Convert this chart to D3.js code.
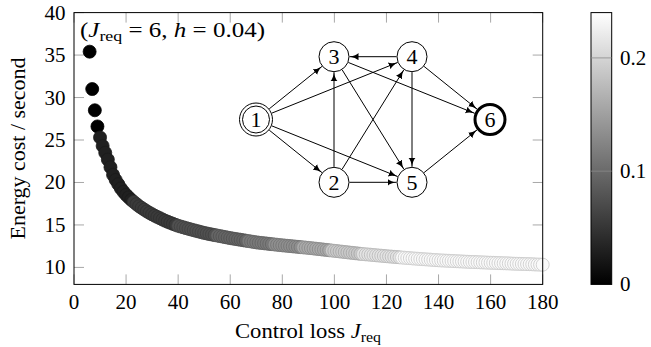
<!DOCTYPE html>
<html>
<head>
<meta charset="utf-8">
<script src="https://cdn.jsdelivr.net/npm/d3@7"></script>
<style>
  body { margin: 0; background: #fff; }
  svg { display: block; font-family: "Liberation Serif", serif; }
</style>
</head>
<body>
<div id="chart"></div>
<script>
const W = 651, H = 347;

// control loss J_req of each point
const jreq = d3.range(6, 181);
// energy cost / second, one value per J_req
const energy = [
  35.4, 31.0, 28.5, 26.6, 25.3, 24.3, 23.5, 22.7, 21.8, 20.9,
  20.3, 19.8, 19.3, 18.9, 18.55, 18.25, 17.95, 17.7, 17.45, 17.2,
  17.0, 16.8, 16.6, 16.42, 16.25, 16.09, 15.94, 15.79, 15.64, 15.5,
  15.37, 15.25, 15.13, 15.01, 14.9, 14.81, 14.72, 14.63, 14.54, 14.46,
  14.38, 14.3, 14.22, 14.14, 14.06, 14.0, 13.93, 13.87, 13.81, 13.75,
  13.69, 13.63, 13.57, 13.51, 13.45, 13.4, 13.35, 13.3, 13.25, 13.2,
  13.15, 13.1, 13.05, 13.0, 12.95, 12.91, 12.88, 12.84, 12.81, 12.77,
  12.74, 12.7, 12.67, 12.63, 12.6, 12.57, 12.54, 12.51, 12.48, 12.45,
  12.42, 12.39, 12.36, 12.33, 12.3, 12.27, 12.23, 12.2, 12.16, 12.13,
  12.09, 12.06, 12.02, 11.99, 11.95, 11.92, 11.88, 11.85, 11.81, 11.78,
  11.74, 11.71, 11.67, 11.64, 11.6, 11.57, 11.54, 11.52, 11.49, 11.46,
  11.43, 11.4, 11.38, 11.35, 11.32, 11.29, 11.27, 11.24, 11.22, 11.19,
  11.16, 11.14, 11.11, 11.09, 11.06, 11.04, 11.02, 10.99, 10.97, 10.95,
  10.93, 10.91, 10.88, 10.86, 10.84, 10.82, 10.81, 10.79, 10.78, 10.76,
  10.74, 10.73, 10.71, 10.7, 10.68, 10.67, 10.65, 10.64, 10.63, 10.62,
  10.6, 10.59, 10.58, 10.56, 10.55, 10.54, 10.53, 10.51, 10.5, 10.49,
  10.48, 10.47, 10.45, 10.44, 10.43, 10.42, 10.41, 10.4, 10.39, 10.38,
  10.37, 10.35, 10.34, 10.33, 10.32
];
// colour value of each point, as bands of J_req: [first J, last J, value]
const colourBands = [
  [6, 9, 0.0], [10, 22, 0.03], [23, 39, 0.055], [40, 54, 0.075],
  [55, 66, 0.095], [67, 76, 0.115], [77, 87, 0.135], [88, 98, 0.16],
  [99, 110, 0.19], [111, 125, 0.215], [126, 180, 0.235]
];

const xTicks = d3.range(0, 181, 20);
const yTicks = [10, 15, 20, 25, 30, 35, 40];
const cbTicks = [0, 0.1, 0.2];

// inset task graph
const graphNodes = [
  { id: 1, col: 0, row: 1, kind: "source" },
  { id: 2, col: 1, row: 2 },
  { id: 3, col: 1, row: 0 },
  { id: 4, col: 2, row: 0 },
  { id: 5, col: 2, row: 2 },
  { id: 6, col: 3, row: 1, kind: "sink" }
];
const graphEdges = [
  [1, 3], [1, 4], [1, 2], [1, 5], [2, 3], [2, 4], [2, 5],
  [3, 5], [3, 6], [4, 3], [4, 5], [4, 6], [5, 6]
];

////////////////////////////////////////////////////////////////////////////////////

const points = jreq.map((j, i) => {
  const band = colourBands.find(b => j >= b[0] && j <= b[1]);
  return { j: j, e: energy[i], c: band[2] };
});

const svg = d3.select("#chart").append("svg").attr("width", W).attr("height", H);
const defs = svg.append("defs");

const pLeft = 74, pRight = 542.7, pTop = 12.6, pBottom = 284.4;
const x = d3.scaleLinear().domain([0, 180]).range([pLeft, pRight]);
const y = d3.scaleLinear().domain([8, 40]).range([pBottom, pTop]);
const colour = d3.scaleLinear().domain([0, 0.24]).range(["#000000", "#ffffff"]);

const TICK_GREY = "#a8a8a8";
const TICK_LEN = 10;

// ticks, inside on all four sides
const tickG = svg.append("g").attr("stroke", TICK_GREY).attr("stroke-width", 1);
xTicks.forEach(t => {
  tickG.append("line").attr("x1", x(t)).attr("x2", x(t)).attr("y1", pBottom).attr("y2", pBottom - TICK_LEN);
  tickG.append("line").attr("x1", x(t)).attr("x2", x(t)).attr("y1", pTop).attr("y2", pTop + TICK_LEN);
});
yTicks.forEach(t => {
  tickG.append("line").attr("x1", pLeft).attr("x2", pLeft + TICK_LEN).attr("y1", y(t)).attr("y2", y(t));
  tickG.append("line").attr("x1", pRight).attr("x2", pRight - TICK_LEN).attr("y1", y(t)).attr("y2", y(t));
});

// scatter
svg.append("g")
  .selectAll("circle")
  .data(points)
  .enter()
  .append("circle")
  .attr("cx", d => x(d.j))
  .attr("cy", d => y(d.e))
  .attr("r", 6.5)
  .attr("fill", d => colour(d.c))
  .attr("stroke", d => d3.interpolateRgb(colour(d.c), "#000")(0.2))
  .attr("stroke-width", 0.8);

// frame
svg.append("rect")
  .attr("x", pLeft).attr("y", pTop)
  .attr("width", pRight - pLeft).attr("height", pBottom - pTop)
  .attr("fill", "none").attr("stroke", "#000").attr("stroke-width", 1);

// tick labels
svg.append("g").selectAll("text").data(xTicks).enter().append("text")
  .attr("x", d => x(d)).attr("y", 308.5)
  .attr("text-anchor", "middle").attr("font-size", 21)
  .text(d => d);

svg.append("g").selectAll("text").data(yTicks).enter().append("text")
  .attr("x", 65.5).attr("y", d => y(d) + 7)
  .attr("text-anchor", "end").attr("font-size", 21)
  .text(d => d);

// axis titles
svg.append("text")
  .attr("transform", `translate(25,${(pTop + pBottom) / 2}) rotate(-90)`)
  .attr("text-anchor", "middle").attr("font-size", 20)
  .attr("textLength", 182).attr("lengthAdjust", "spacingAndGlyphs")
  .text("Energy cost / second");

const xl = svg.append("text")
  .attr("x", 235).attr("y", 338)
  .attr("font-size", 20)
  .attr("textLength", 146).attr("lengthAdjust", "spacingAndGlyphs");
xl.append("tspan").text("Control loss ");
xl.append("tspan").attr("font-style", "italic").text("J");
xl.append("tspan").attr("font-size", 14).attr("dy", 4).text("req");

// annotation
const ann = svg.append("text").attr("x", 80).attr("y", 37).attr("font-size", 21)
  .attr("textLength", 185).attr("lengthAdjust", "spacingAndGlyphs");
ann.append("tspan").text("(");
ann.append("tspan").attr("font-style", "italic").text("J");
ann.append("tspan").attr("font-size", 15).attr("dy", 4).text("req");
ann.append("tspan").attr("dy", -4).text(" = 6, ");
ann.append("tspan").attr("font-style", "italic").text("h");
ann.append("tspan").text(" = 0.04)");

////////////////////////////////////////////////////////////////////////////////////
// colour bar

const cbLeft = 591, cbRight = 611.7;
const cy = d3.scaleLinear().domain([0, 0.24]).range([pBottom, pTop]);

const grad = defs.append("linearGradient")
  .attr("id", "cbgrad").attr("x1", 0).attr("x2", 0).attr("y1", 1).attr("y2", 0);
grad.append("stop").attr("offset", 0).attr("stop-color", colour(0));
grad.append("stop").attr("offset", 1).attr("stop-color", colour(0.24));

svg.append("rect")
  .attr("x", cbLeft).attr("y", pTop)
  .attr("width", cbRight - cbLeft).attr("height", pBottom - pTop)
  .attr("fill", "url(#cbgrad)").attr("stroke", "#000").attr("stroke-width", 1);

svg.append("g").selectAll("line").data(cbTicks.filter(t => t > 0)).enter().append("line")
  .attr("x1", cbLeft).attr("x2", cbRight)
  .attr("y1", d => cy(d)).attr("y2", d => cy(d))
  .attr("stroke", "#8a8a8a").attr("stroke-width", 0.8);

svg.append("g").selectAll("text").data(cbTicks).enter().append("text")
  .attr("x", 620).attr("y", d => cy(d) + 7)
  .attr("font-size", 21)
  .text(d => d);

////////////////////////////////////////////////////////////////////////////////////
// inset graph

const gx = d3.scaleLinear().domain([0, 3]).range([256, 490]);
const gy = d3.scaleLinear().domain([0, 2]).range([56.7, 182.3]);
const R = 15;
const outerR = n => n.kind === "source" ? 17 : n.kind === "sink" ? R + 1.5 : R + 0.5;
const byId = new Map(graphNodes.map(n => [n.id, n]));

defs.append("marker")
  .attr("id", "arrow")
  .attr("viewBox", "0 -4 10 8")
  .attr("refX", 10).attr("refY", 0)
  .attr("markerUnits", "userSpaceOnUse")
  .attr("markerWidth", 9).attr("markerHeight", 7.2)
  .attr("orient", "auto")
  .append("path")
  .attr("d", "M0,-4 Q3,-1 10,0 Q3,1 0,4 Z")
  .attr("fill", "#000");

svg.append("g").selectAll("line").data(graphEdges).enter().append("line")
  .each(function (e) {
    const s = byId.get(e[0]), t = byId.get(e[1]);
    const x1 = gx(s.col), y1 = gy(s.row), x2 = gx(t.col), y2 = gy(t.row);
    const len = Math.hypot(x2 - x1, y2 - y1);
    const ux = (x2 - x1) / len, uy = (y2 - y1) / len;
    d3.select(this)
      .attr("x1", x1 + ux * outerR(s)).attr("y1", y1 + uy * outerR(s))
      .attr("x2", x2 - ux * outerR(t)).attr("y2", y2 - uy * outerR(t));
  })
  .attr("stroke", "#000").attr("stroke-width", 1)
  .attr("marker-end", "url(#arrow)");

const nodeG = svg.append("g").selectAll("g").data(graphNodes).enter().append("g")
  .attr("transform", d => `translate(${gx(d.col)},${gy(d.row)})`);

nodeG.append("circle")
  .attr("r", d => d.kind === "source" ? 16.5 : R)
  .attr("fill", "#fff").attr("stroke", "#000")
  .attr("stroke-width", d => d.kind === "sink" ? 3 : 1);

nodeG.filter(d => d.kind === "source").append("circle")
  .attr("r", 13.5).attr("fill", "none").attr("stroke", "#000").attr("stroke-width", 1);

nodeG.append("text")
  .attr("text-anchor", "middle").attr("y", 7.5)
  .attr("font-size", 22)
  .text(d => d.id);
</script>
</body>
</html>
